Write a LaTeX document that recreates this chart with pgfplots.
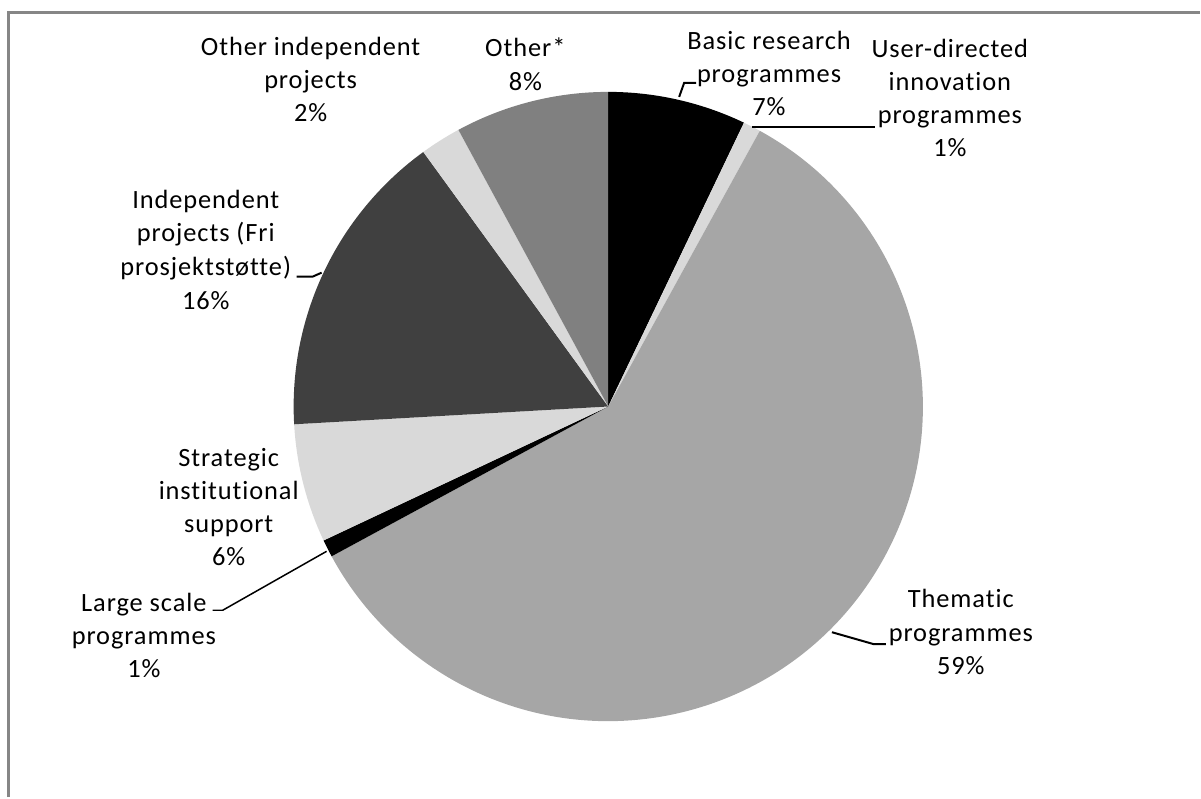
\documentclass[border=0pt]{standalone}
\usepackage{pgfplots}
\usepackage{pgfplotstable}
\pgfplotsset{compat=1.18}
\usepackage{fontspec}
\setmainfont{Carlito}[LetterSpace=3.5, Ligatures=NoCommon]
\definecolor{lg}{HTML}{D9D9D9}
\definecolor{mg}{HTML}{A6A6A6}
\definecolor{gg}{HTML}{808080}
\definecolor{dg}{HTML}{404040}
\definecolor{frame}{HTML}{868686}
% slice shares in percent, clockwise from 12 o'clock
\pgfplotstableread{
value color
7.1 black
0.9 lg
59.1 mg
0.9 black
6.1 lg
15.9 dg
2.1 lg
7.9 gg
}\piedata
\begin{document}
\begin{tikzpicture}
\begin{axis}[scale only axis, width=1201bp, height=798bp,
  xmin=0, xmax=1201, ymin=0, ymax=798, y dir=reverse, hide axis, clip=false]
\path (axis cs:0,0) (axis cs:1201,798);
\gdef\cum{0}
\pgfplotsinvokeforeach{0,...,7}{
  \pgfplotstablegetelem{#1}{value}\of\piedata \let\v\pgfplotsretval
  \pgfplotstablegetelem{#1}{color}\of\piedata \let\c\pgfplotsretval
  \pgfmathsetmacro\a{90-3.6*\cum}
  \pgfmathsetmacro\b{90-3.6*(\cum+\v)}
  \pgfmathsetmacro\newcum{\cum+\v}
  \xdef\cum{\newcum}
  \edef\tmp{\noexpand\fill[fill=\c] (axis cs:609,407) -- ++(\a:315bp) arc[start angle=\a, end angle=\b, radius=315bp] -- cycle;}
  \tmp
}
% frame
\draw[frame, line width=3bp] (axis cs:9,798) -- (axis cs:9,12.5) -- (axis cs:1201,12.5);
% leaders
\draw[black, line width=2bp] (axis cs:680,97) -- (axis cs:685,83) -- (axis cs:697,83);
\draw[black, line width=2bp] (axis cs:753,127) -- (axis cs:876,127);
\draw[black, line width=2bp] (axis cs:833,633) -- (axis cs:875,645) -- (axis cs:887,645);
\draw[black, line width=1.5bp] (axis cs:327,552) -- (axis cs:223,611) -- (axis cs:213,611);
\draw[black, line width=2bp] (axis cs:322,273) -- (axis cs:313,277) -- (axis cs:297,277);
% labels
\tikzset{lb/.style={anchor=base, inner sep=0pt, font=\fontsize{26.5}{33}\selectfont}}
\node[lb] at (axis cs:770,50) {Basic research};
\node[lb] at (axis cs:770,83) {programmes};
\node[lb] at (axis cs:770,116) {7\%};
\node[lb] at (axis cs:951,58) {User-directed};
\node[lb] at (axis cs:951,91) {innovation};
\node[lb] at (axis cs:951,124) {programmes};
\node[lb] at (axis cs:951,157) {1\%};
\node[lb] at (axis cs:962,608) {Thematic};
\node[lb] at (axis cs:962,642) {programmes};
\node[lb] at (axis cs:962,675) {59\%};
\node[lb] at (axis cs:144,612) {Large scale};
\node[lb] at (axis cs:144,645) {programmes};
\node[lb] at (axis cs:144,678) {1\%};
\node[lb] at (axis cs:229,467) {Strategic};
\node[lb] at (axis cs:229,500) {institutional};
\node[lb] at (axis cs:229,533) {support};
\node[lb] at (axis cs:229,566) {6\%};
\node[lb] at (axis cs:206,209) {Independent};
\node[lb] at (axis cs:206,242) {projects (Fri};
\node[lb] at (axis cs:206,276) {prosjektstøtte)};
\node[lb] at (axis cs:206,310) {16\%};
\node[lb] at (axis cs:311,56) {Other independent};
\node[lb] at (axis cs:311,89) {projects};
\node[lb] at (axis cs:311,122) {2\%};
\node[lb] at (axis cs:526,57) {Other*};
\node[lb] at (axis cs:526,91) {8\%};
\end{axis}
\end{tikzpicture}
\end{document}
